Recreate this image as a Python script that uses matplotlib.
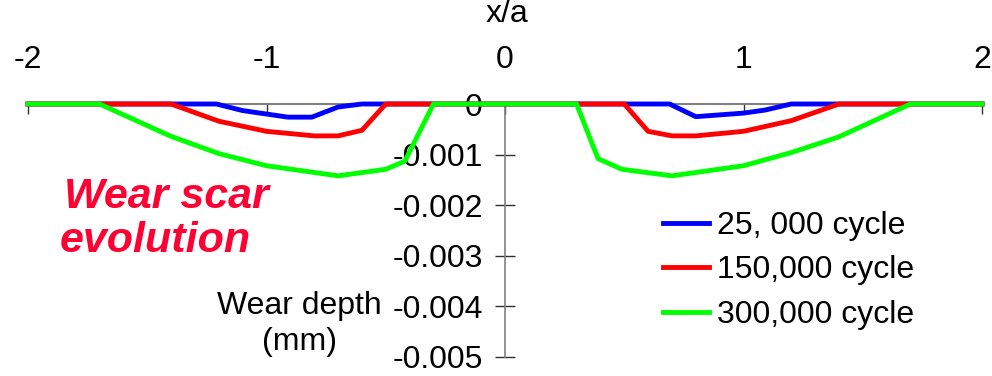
import matplotlib
matplotlib.use("Agg")
import matplotlib.pyplot as plt

plt.rcParams["font.family"] = ["Liberation Sans", "DejaVu Sans"]
plt.rcParams["axes.unicode_minus"] = False

# wear profiles (x/a, depth in mm)
x_25k = [-2, -1.21, -1.10, -0.91, -0.81, -0.70, -0.60, 0.69, 0.80, 1.00, 1.09, 1.20, 2]
y_25k = [0, 0, -0.00013, -0.00026, -0.00026, -0.00006, 0, 0, -0.00025, -0.00018, -0.00012, 0, 0]

x_150k = [-2, -1.40, -1.20, -1.00, -0.80, -0.70, -0.60, -0.50, 0.50, 0.60, 0.70, 0.80, 1.00, 1.20, 1.40, 2]
y_150k = [0, 0, -0.00034, -0.00054, -0.00063, -0.00063, -0.00052, 0, 0, -0.00054, -0.00063, -0.00063,
          -0.00054, -0.00033, 0, 0]

x_300k = [-2, -1.70, -1.40, -1.20, -1.00, -0.70, -0.50, -0.42, -0.30, 0.30, 0.39, 0.49, 0.70, 1.00,
          1.20, 1.40, 1.70, 2]
y_300k = [0, 0, -0.00064, -0.00098, -0.00122, -0.00142, -0.00129, -0.00113, 0, 0, -0.00108, -0.00129,
          -0.00142, -0.00122, -0.00096, -0.00065, 0, 0]

labels = ["25, 000 cycle", "150,000 cycle", "300,000 cycle"]
xticks = [-2, -1, 0, 1, 2]
xtick_labels = ["-2", "-1", "0", "1", "2"]
yticks = [0, -0.001, -0.002, -0.003, -0.004, -0.005]
ytick_labels = ["0", "-0.001", "-0.002", "-0.003", "-0.004", "-0.005"]

fig = plt.figure(figsize=(9.92, 3.76), dpi=100)
ax = fig.add_axes([28 / 992, 19 / 376, 954 / 992, 253 / 376])

lw = 3.5
ax.plot(x_25k, y_25k, color="#0000ff", lw=lw, label=labels[0], clip_on=False, zorder=3)
ax.plot(x_150k, y_150k, color="#ff0000", lw=lw, label=labels[1], clip_on=False, zorder=4)
ax.plot(x_300k, y_300k, color="#00ff00", lw=lw, label=labels[2], clip_on=False, zorder=5)

ax.set_xlim(-2, 2)
ax.set_ylim(-0.005, 0)

for s in ["bottom", "right"]:
    ax.spines[s].set_visible(False)
ax.spines["left"].set_position(("data", 0))
ax.spines["left"].set_color("#808080")
ax.spines["top"].set_color("#808080")
ax.spines["left"].set_linewidth(1.2)
ax.spines["top"].set_linewidth(1.5)

ax.xaxis.set_ticks_position("top")
ax.set_xticks(xticks)
ax.set_xticklabels(xtick_labels)
ax.tick_params(axis="x", direction="in", length=7, width=1, color="#303030", pad=21, labelsize=23)

ax.set_yticks(yticks)
ax.set_yticklabels(ytick_labels)
ax.tick_params(axis="y", direction="inout", length=14, width=1, color="#303030", pad=9, labelsize=23)

fig.text(507 / 992, 1 - 14 / 376, "x/a", ha="center", va="center", fontsize=23)
fig.text(299 / 992, 1 - 324 / 376, "Wear depth\n(mm)", ha="center", va="center", fontsize=23,
         linespacing=1.3)
red_txt = dict(fontsize=31, color="#ff0033", fontweight="bold", fontstyle="italic", va="baseline")
fig.text(64 / 992, 1 - 208 / 376, "Wear scar", ha="left", **red_txt)
fig.text(60 / 992, 1 - 252 / 376, "evolution", ha="left", **red_txt)

ax.legend(loc="upper left", bbox_to_anchor=(663 / 992, 1 - 211 / 376), bbox_transform=fig.transFigure,
          frameon=False, fontsize=23, handlelength=1.45, handletextpad=0.25, labelspacing=0.45,
          borderpad=0, borderaxespad=0)

fig.savefig("out.png", dpi=100)
